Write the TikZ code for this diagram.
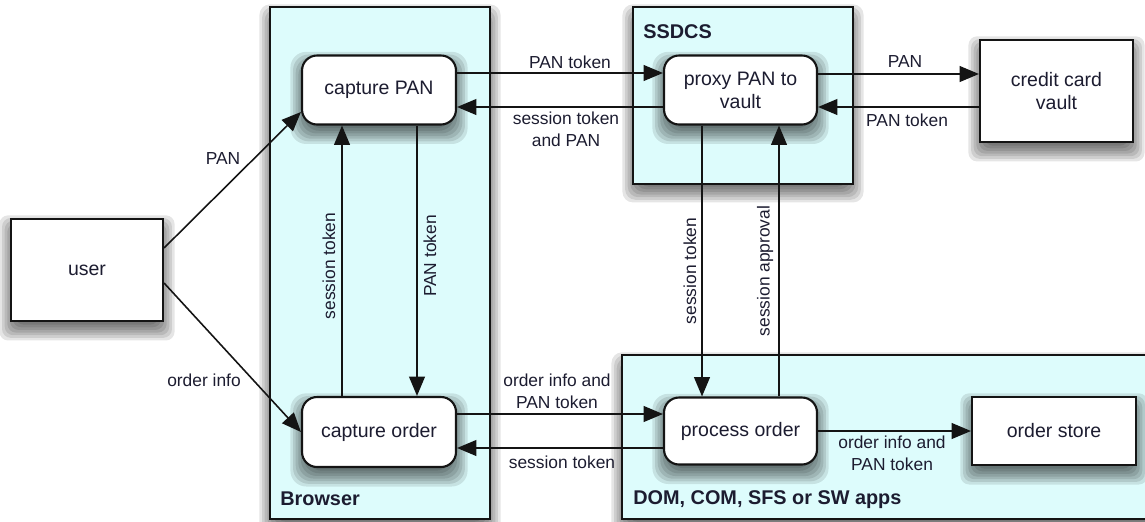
\documentclass[tikz,border=0pt]{standalone}
\usepackage{fontspec}
\setmainfont{Liberation Sans}
\usetikzlibrary{arrows.meta}
\definecolor{zone}{RGB}{221,252,252}
\definecolor{ink}{RGB}{28,28,48}
\definecolor{edge}{RGB}{20,20,20}

\pgfdeclarelayer{zoneshadow}
\pgfdeclarelayer{zonefill}
\pgfdeclarelayer{nodeshadow}
\pgfsetlayers{zoneshadow,zonefill,nodeshadow,main}

% soft drop shadow: stacked translucent rectangles, shifted down
% #1 = lower-left corner, #2 = upper-right corner, #3 = corner radius
\newcommand\blurbox[3]{%
  \foreach \g/\n in {6/-6,4.5/-4.5,3/-3,1.5/-1.5,0/0,-1.5/1.5,-3/3}{%
    \fill[black, fill opacity=0.1, rounded corners=#3]
      ([shift={(\n pt,\n pt-4.5pt)}]#1) rectangle ([shift={(\g pt,\g pt-4.5pt)}]#2);
  }%
}

\tikzset{
  zonebox/.style={draw=edge, line width=1.2pt, fill=zone},
  zonelabel/.style={font=\fontsize{11.3}{13}\selectfont\bfseries, text=ink,
      anchor=west, inner sep=0pt},
  proc/.style={draw=edge, line width=1.2pt, fill=white, rounded corners=0.3cm,
      font=\fontsize{11.1}{13}\selectfont, text=ink, align=center,
      inner sep=0pt},
  store/.style={draw=edge, line width=1.2pt, fill=white,
      font=\fontsize{11.1}{13}\selectfont, text=ink, align=center, inner sep=0pt},
  flow/.style={draw=edge, line width=0.9pt,
      -{Triangle[length=11pt, width=9pt]}},
  tag/.style={font=\fontsize{9.9}{12.5}\selectfont, text=ink, align=center,
      inner sep=0pt},
}

\begin{document}
\begin{tikzpicture}[x=0.02cm, y=-0.02cm]
\useasboundingbox (0,0) rectangle (1145,521);

% system boundaries
\begin{pgfonlayer}{zoneshadow}
  \blurbox{270,519}{490,7}{6pt}
  \blurbox{633,184}{853,7}{6pt}
  \blurbox{622,519}{1160,355}{6pt}
\end{pgfonlayer}
\begin{pgfonlayer}{zonefill}
  \path[zonebox] (270,7) rectangle (490,519);
  \path[zonebox] (633,7) rectangle (853,184);
  \path[zonebox] (622,355) rectangle (1160,519);
\end{pgfonlayer}
\node[zonelabel] (lbrowser) at (280,499) {Browser};
\node[zonelabel] (lssdcs) at (643,32) {SSDCS};
\node[zonelabel] (ldom) at (633,500) {DOM, COM, SFS or SW apps};

% actors, processes and stores
\node[store, minimum width=3.04cm, minimum height=2.04cm] (user) at (87,270) {user};
\node[proc, minimum width=3.08cm, minimum height=1.38cm] (cpan) at (379,90) {capture PAN};
\node[proc, minimum width=3.08cm, minimum height=1.40cm] (corder) at (379,432) {capture order};
\node[proc, minimum width=3.06cm, minimum height=1.38cm] (proxy) at (740.5,90) {proxy PAN to\\vault};
\node[proc, minimum width=3.06cm, minimum height=1.34cm] (porder) at (740.5,431) {process order};
\node[store, minimum width=3.06cm, minimum height=2.04cm] (vault) at (1056.5,91) {credit card\\vault};
\node[store, minimum width=3.28cm, minimum height=1.36cm] (ostore) at (1054,431) {order store};

\begin{pgfonlayer}{nodeshadow}
  \foreach \b in {user,vault,ostore}{\blurbox{\b.south west}{\b.north east}{5pt}}
  \foreach \b in {cpan,corder,proxy,porder}{\blurbox{\b.south west}{\b.north east}{9pt}}
\end{pgfonlayer}

% data flows
\draw[flow] (user.east |- 0,248) -- (cpan.west |- 0,112);
\draw[flow] (user.east |- 0,283) -- (corder.west |- 0,432);
\draw[flow] (cpan.east |- 0,73) -- (proxy.west |- 0,73);
\draw[flow] (proxy.west |- 0,107) -- (cpan.east |- 0,107);
\draw[flow] (proxy.east |- 0,74) -- (vault.west |- 0,74);
\draw[flow] (vault.west |- 0,107) -- (proxy.east |- 0,107);
\draw[flow] (corder.north -| 342,0) -- (cpan.south -| 342,0);
\draw[flow] (cpan.south -| 417,0) -- (corder.north -| 417,0);
\draw[flow] (proxy.south -| 702,0) -- (porder.north -| 702,0);
\draw[flow] (porder.north -| 779,0) -- (proxy.south -| 779,0);
\draw[flow] (corder.east |- 0,414) -- (porder.west |- 0,414);
\draw[flow] (porder.west |- 0,448) -- (corder.east |- 0,448);
\draw[flow] (porder.east |- 0,431) -- (ostore.west |- 0,431);

% flow labels
\node[tag] (t1) at (223,159) {PAN};
\node[tag] (t2) at (204,380) {order info};
\node[tag] (t3) at (570,62) {PAN token};
\node[tag] (t4) at (566,129) {session token\\and PAN};
\node[tag] (t5) at (905,62) {PAN};
\node[tag] (t6) at (907,120) {PAN token};
\node[tag] (t7) at (557,391) {order info and\\PAN token};
\node[tag] (t8) at (562,462) {session token};
\node[tag] (t9) at (892,453) {order info and\\PAN token};
\node[tag, rotate=90] (t10) at (329,266) {session token};
\node[tag, rotate=90] (t11) at (430,256) {PAN token};
\node[tag, rotate=90] (t12) at (690,271) {session token};
\node[tag, rotate=90] (t13) at (765,271) {session approval};
\end{tikzpicture}
\end{document}
